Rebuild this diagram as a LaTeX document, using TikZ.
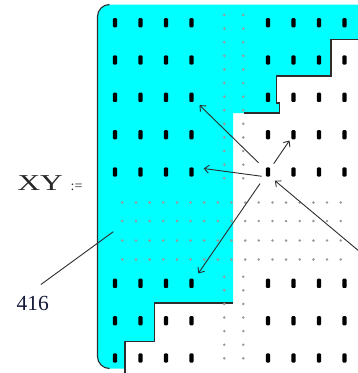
\documentclass[tikz,border=0pt]{standalone}
\usepackage{fontspec}
\newfontfamily\timesfont{Liberation Serif}
\usetikzlibrary{arrows.meta}
\definecolor{hole}{RGB}{0,255,255}
\definecolor{edgegray}{RGB}{45,45,45}
\definecolor{labelink}{RGB}{20,25,55}
\tikzset{
  bigdot/.style={fill=black,minimum width=4.2pt,minimum height=9.2pt,inner sep=0pt,rounded corners=1pt},
  speck/.style={fill=black!40},
  ray/.style={draw=edgegray,line width=0.9pt,-{Straight Barb[length=4.5pt,width=8pt]}},
  rim/.style={draw=edgegray,line width=1.1pt},
}
\begin{document}
\begin{tikzpicture}[x=1pt,y=-1pt]
\useasboundingbox (0,0) rectangle (358,373);
\clip (0,0) rectangle (358,373);
\fill[hole] (109.5,4.5) -- (360,4.5) -- (360,39.5) -- (331,39.5) -- (331,76) -- (276.5,76)
  -- (276.5,103) -- (279.3,103) -- (279.3,113) -- (233,113) -- (233,303) -- (154.5,303)
  -- (154.5,341.7) -- (125,341.7) -- (125,368.5) -- (109.5,368.5)
  arc[start angle=90,end angle=180,radius=12] -- (97.5,16.5)
  arc[start angle=180,end angle=270,radius=12] -- cycle;
\draw[rim] (109.5,4.5) arc[start angle=270,end angle=180,radius=12] -- (97.5,356.5)
  arc[start angle=180,end angle=90,radius=12];
\draw[rim] (125,373) -- (125,341.7) -- (154.5,341.7) -- (154.5,303) -- (233,303);
\draw[rim] (358,39.5) -- (331,39.5) -- (331,76) -- (276.5,76) -- (276.5,103) -- (279.3,103)
  -- (279.3,113) -- (244,113);
\foreach \y in {202.5,221,240.5,259.5}
  \foreach \k in {0,...,16}
    \fill[speck] (122.3+13.65*\k,\y) circle (1.4);
\foreach \x in {224.3,243.3} {
  \foreach \k in {0,...,12} \fill[speck] (\x,15+13.6*\k) circle (1.4);
  \foreach \k in {0,...,6} \fill[speck] (\x,276.7+13.6*\k) circle (1.4);
}
\foreach \c/\x in {1/115,2/140.5,3/166,4/191.5,5/268,6/293.5,7/319,8/344.5}
  \foreach \r/\y in {1/22.7,2/60,3/97.3,4/134.7,5/172,8/283.3,9/320.7,10/358}
    \node[bigdot] (d-\c-\r) at (\x,\y) {};
\coordinate (far) at (372,262);
\draw[ray,shorten <=10pt,shorten >=8pt] (d-5-5) -- (d-4-3);
\draw[ray,shorten <=4pt,shorten >=10pt] (d-5-5.south west) -- (d-4-5.north east);
\draw[ray,shorten <=6pt,shorten >=3pt] (d-5-5) -- (d-6-4);
\draw[ray,shorten <=10pt,shorten >=8pt] (d-5-5) -- (d-4-8);
\draw[ray,shorten >=6pt] (far) -- (d-5-5.south east);
\node[anchor=base west,inner sep=0pt,text=black!85,font=\timesfont\fontsize{22.7}{22.7}\selectfont] (xy) at (17.3,190)
  {\scalebox{1.38}[1]{XY}\hspace{8pt}{\fontsize{14}{14}\selectfont :=}};
\node[anchor=base west,inner sep=0pt,text=labelink,font=\timesfont\fontsize{21.5}{21.5}\selectfont] (n416) at (16.5,310) {416};
\coordinate (c416) at (113.3,231.7);
\draw[edgegray,line width=0.9pt] ([shift={(8,-11)}]n416.north) -- (c416);
\end{tikzpicture}
\end{document}
